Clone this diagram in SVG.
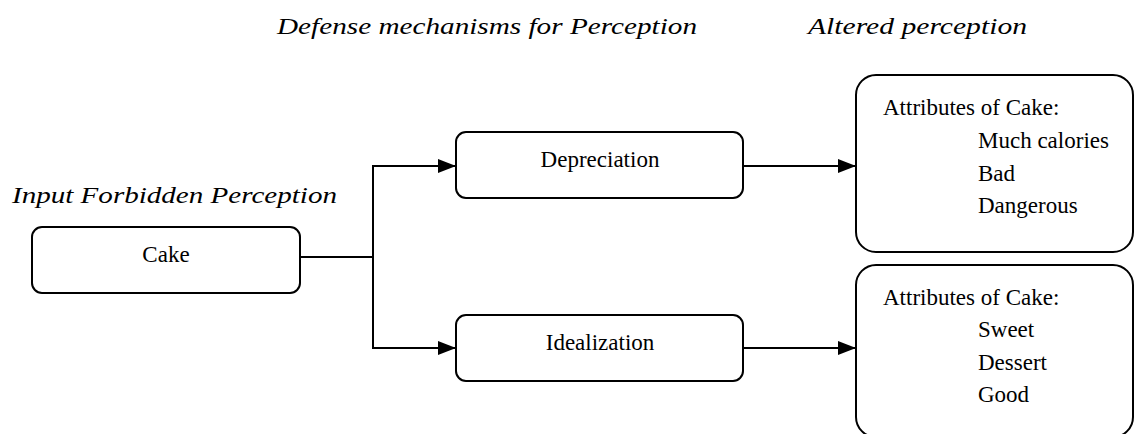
<svg xmlns="http://www.w3.org/2000/svg" width="1134" height="434" viewBox="0 0 1134 434">
  <style>
    .box { fill: #ffffff; stroke: #000000; stroke-width: 2; }
    .wire { fill: none; stroke: #000000; stroke-width: 2; }
  </style>
  <defs>
    <marker id="arrow" viewBox="0 0 18 14" refX="18" refY="7" markerWidth="18" markerHeight="14" markerUnits="userSpaceOnUse" orient="auto">
      <path d="M0,0 L18,7 L0,14 Z" fill="#000000"/>
    </marker>
  </defs>

  <!-- column headings -->
  <g id="headings" font-family="Liberation Serif, Times New Roman, serif" font-style="italic" fill="#000000">
    <text x="277" y="34" style="font-size:24px" textLength="420" lengthAdjust="spacingAndGlyphs">Defense mechanisms for Perception</text>
    <text x="808" y="34" style="font-size:24px" textLength="219" lengthAdjust="spacingAndGlyphs">Altered perception</text>
    <text x="12" y="203" style="font-size:24px" textLength="325" lengthAdjust="spacingAndGlyphs">Input Forbidden Perception</text>
  </g>

  <!-- connectors -->
  <g id="connectors">
    <polyline class="wire" points="300,257 373,257"/>
    <polyline class="wire" points="373,257 373,166 456,166" marker-end="url(#arrow)"/>
    <polyline class="wire" points="373,257 373,348 456,348" marker-end="url(#arrow)"/>
    <line class="wire" x1="743" y1="166" x2="856" y2="166" marker-end="url(#arrow)"/>
    <line class="wire" x1="743" y1="348" x2="856" y2="348" marker-end="url(#arrow)"/>
  </g>

  <g font-family="Liberation Serif, Times New Roman, serif" font-size="23" fill="#000000">
    <g id="cake">
      <rect class="box" x="32" y="227" width="268" height="66" rx="10"/>
      <text x="166" y="262" text-anchor="middle">Cake</text>
    </g>

    <g id="depreciation">
      <rect class="box" x="456" y="132" width="287" height="66" rx="10"/>
      <text x="600" y="167" text-anchor="middle">Depreciation</text>
    </g>

    <g id="idealization">
      <rect class="box" x="456" y="315" width="287" height="66" rx="10"/>
      <text x="600" y="350" text-anchor="middle">Idealization</text>
    </g>

    <g id="bad-attributes">
      <rect class="box" x="856" y="75" width="277" height="177" rx="20"/>
      <text x="883" y="115">Attributes of Cake:</text>
      <text x="978" y="148">Much calories</text>
      <text x="978" y="181">Bad</text>
      <text x="978" y="213">Dangerous</text>
    </g>

    <g id="good-attributes">
      <rect class="box" x="856" y="265" width="277" height="172" rx="20"/>
      <text x="883" y="305">Attributes of Cake:</text>
      <text x="978" y="337">Sweet</text>
      <text x="978" y="370">Dessert</text>
      <text x="978" y="402">Good</text>
    </g>
  </g>
</svg>
